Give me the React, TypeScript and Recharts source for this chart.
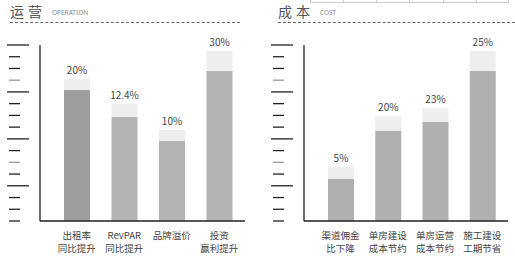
import React from 'react'
import { BarChart, Bar, XAxis, YAxis, Cell, LabelList } from 'recharts'

// 运营
const opCats = [['出租率', '同比提升'], ['RevPAR', '同比提升'], ['品牌溢价'], ['投资', '赢利提升']]
const opBase = [111.6, 88.6, 68.2, 127.8]
const opCap = [9.4, 11.1, 9.4, 17.1]
const opLabels = ['20%', '12.4%', '10%', '30%']

// 成本
const costCats = [['渠道佣金', '比下降'], ['单房建设', '成本节约'], ['单房运营', '成本节约'], ['施工建设', '工期节省']]
const costBase = [35.8, 76.7, 84.4, 127.8]
const costCap = [10.2, 12.8, 11.9, 17.1]
const costLabels = ['5%', '20%', '23%', '25%']

const yTicks = [0, 10, 20, 30, 40, 50, 60, 70, 80, 90, 100, 110, 120, 130, 140, 150]
const longTicks = [30, 70, 110, 150]
const greyTicks = [50, 120]

const FONT = '"Noto Sans CJK SC", "Noto Sans", sans-serif'

const YTick = (props: any) => {
  const { x, y, payload } = props
  const v = payload.value
  const long = longTicks.includes(v)
  const x2 = x - (long ? 3 : 12)
  const x1 = x - (long ? 25 : 23)
  return <line x1={x1} x2={x2} y1={y} y2={y} stroke={greyTicks.includes(v) ? '#999' : '#222'} strokeWidth={1.3} />
}

const makeXTick = (cats: string[][]) => (props: any) => {
  const { x, y, index } = props
  const lines = cats[index] || []
  return (
    <text x={x} y={y} textAnchor="middle" fontSize={9.5} fill="#444" fontFamily={FONT}>
      {lines.map((l, i) => (
        <tspan key={i} x={x} dy={i === 0 ? 10 : 12.5}>{l}</tspan>
      ))}
    </text>
  )
}

function Panel({ cats, base, cap, labels, firstColor, color, yWidth, width }: any) {
  const data = cats.map((c: string[], i: number) => ({ name: c.join(''), base: base[i], cap: cap[i], label: labels[i] }))
  return (
    <BarChart width={width} height={261} data={data} margin={{ top: 45, right: 0, left: 0, bottom: 0 }} barSize={26}>
      <XAxis dataKey="name" height={40} interval={0} axisLine={{ stroke: '#222', strokeWidth: 1.6 }} tickLine={false}
        tick={makeXTick(cats)} padding={{ left: 13, right: 2 }} />
      <YAxis domain={[0, 150]} ticks={yTicks} width={yWidth} axisLine={{ stroke: '#222', strokeWidth: 1.3 }}
        tickLine={false} tick={<YTick />} interval={0} />
      <Bar dataKey="base" stackId="a" isAnimationActive={false}>
        {data.map((_: any, i: number) => <Cell key={i} fill={i === 0 ? firstColor : color} />)}
      </Bar>
      <Bar dataKey="cap" stackId="a" fill="#eeeeee" isAnimationActive={false}>
        <LabelList dataKey="label" position="top" offset={5} fontSize={10} fill="#444" fontFamily={FONT} />
      </Bar>
    </BarChart>
  )
}

const Title = ({ left, cn, en, lineWidth }: any) => (
  <div style={{ position: 'absolute', left, top: 0, width: lineWidth }}>
    <div style={{ position: 'absolute', left: 0, top: 2, fontSize: 14, letterSpacing: 4, color: '#555', fontFamily: FONT, whiteSpace: 'nowrap', lineHeight: '18px' }}>
      {cn}
      <span style={{ fontSize: 6.5, letterSpacing: 0, color: '#888', marginLeft: 6, verticalAlign: 'middle', fontFamily: '"Noto Sans", sans-serif' }}>{en}</span>
    </div>
    <div style={{ position: 'absolute', left: 0, top: 22, width: lineWidth, borderTop: '1px dashed #666' }} />
  </div>
)

const frameCols = [310, 343, 376, 409, 443, 476, 508]

export default function App() {
  return (
    <div style={{ position: 'absolute', left: 0, top: 0, width: 515, height: 261, background: '#fff', overflow: 'hidden' }}>
      <div style={{ position: 'absolute', left: 310, top: 0, width: 198, height: 2, borderBottom: '1px solid #ccc' }} />
      {frameCols.map(x => (
        <div key={x} style={{ position: 'absolute', left: x, top: 0, width: 1, height: 3, background: '#ccc' }} />
      ))}
      <Title left={10} cn="运营" en="OPERATION" lineWidth={230} />
      <Title left={278} cn="成本" en="COST" lineWidth={237} />
      <div style={{ position: 'absolute', left: 0, top: 0 }}>
        <Panel cats={opCats} base={opBase} cap={opCap} labels={opLabels} firstColor="#9e9e9e" color="#b4b4b4" yWidth={40} width={245} />
      </div>
      <div style={{ position: 'absolute', left: 260, top: 0 }}>
        <Panel cats={costCats} base={costBase} cap={costCap} labels={costLabels} firstColor="#b0b0b0" color="#b0b0b0" yWidth={44} width={248} />
      </div>
    </div>
  )
}
